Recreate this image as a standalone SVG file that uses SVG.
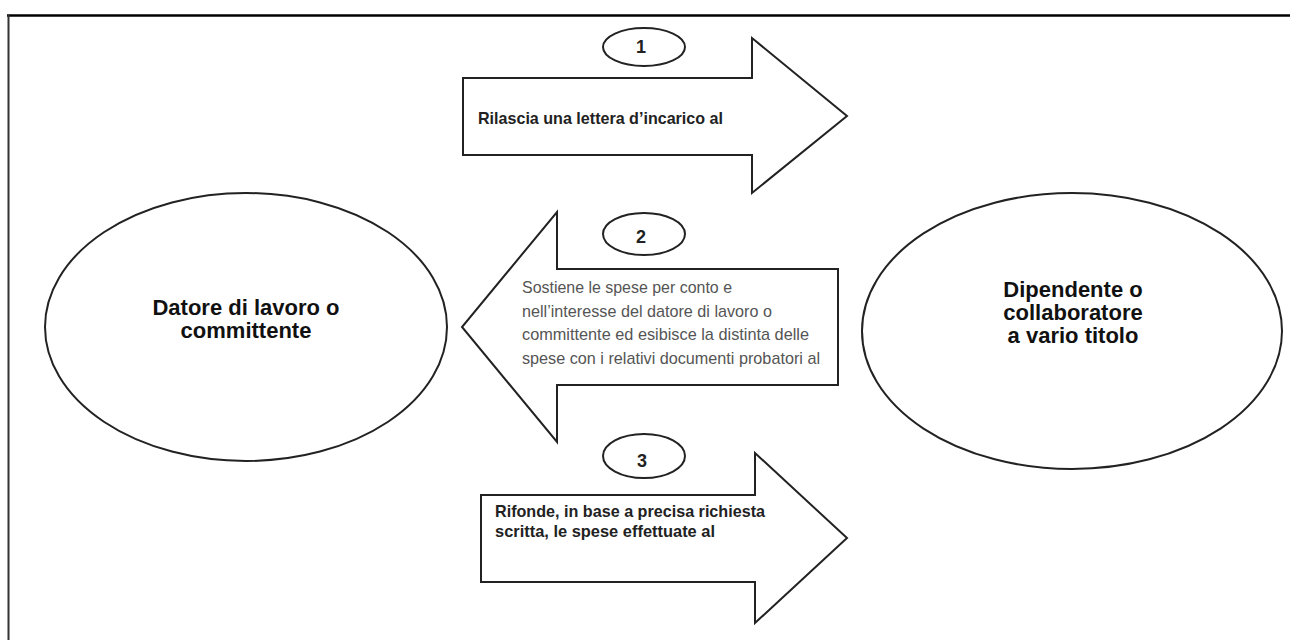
<svg xmlns="http://www.w3.org/2000/svg" width="1290" height="640" viewBox="0 0 1290 640">
<style>
.shape{fill:#fff;stroke:#222;stroke-width:2}
.big{font-family:"Liberation Sans",Arial,sans-serif;font-weight:bold;font-size:22px;fill:#111;text-anchor:middle}
.num{font-family:"Liberation Sans",Arial,sans-serif;font-weight:bold;font-size:18px;fill:#222;text-anchor:middle}
.lbl{font-family:"Liberation Sans",Arial,sans-serif;font-weight:bold;font-size:17px;fill:#222}
.lbl2{font-family:"Liberation Sans",Arial,sans-serif;font-size:17px;fill:#555}
</style>
<rect width="1290" height="640" fill="#fff"/>
<g id="frame">
<line x1="7" y1="15.5" x2="1290" y2="15.5" stroke="#000" stroke-width="2.5"/>
<line x1="8.5" y1="15" x2="8.5" y2="640" stroke="#333" stroke-width="2"/>
</g>
<g id="connectors">
<g id="arrow1">
<polygon class="shape" points="463,78 752,78 752,38 847,116 752,193 752,155 463,155"/>
<text class="lbl" x="478" y="124" textLength="245" lengthAdjust="spacingAndGlyphs">Rilascia una lettera d’incarico al</text>
</g>
<g id="arrow2">
<polygon class="shape" points="838,269 557,269 557,212 462,327 557,442 557,385 838,385"/>
<text class="lbl2" x="522" y="293" textLength="210" lengthAdjust="spacingAndGlyphs">Sostiene le spese per conto e</text>
<text class="lbl2" x="522" y="316.5" textLength="250" lengthAdjust="spacingAndGlyphs">nell’interesse del datore di lavoro o</text>
<text class="lbl2" x="522" y="340" textLength="287" lengthAdjust="spacingAndGlyphs">committente ed esibisce la distinta delle</text>
<text class="lbl2" x="522" y="363.5" textLength="298" lengthAdjust="spacingAndGlyphs">spese con i relativi documenti probatori al</text>
</g>
<g id="arrow3">
<polygon class="shape" points="481,495 755,495 755,453 847,538 755,623 755,582 481,582"/>
<text class="lbl" x="495" y="517" textLength="270" lengthAdjust="spacingAndGlyphs">Rifonde, in base a precisa richiesta</text>
<text class="lbl" x="495" y="537" textLength="220" lengthAdjust="spacingAndGlyphs">scritta, le spese effettuate al</text>
</g>
</g>
<g id="step1">
<ellipse class="shape" cx="644" cy="47" rx="41" ry="19"/>
<text class="num" x="641" y="53">1</text>
</g>
<g id="step2">
<ellipse class="shape" cx="644" cy="234" rx="41" ry="21"/>
<text class="num" x="641" y="243">2</text>
</g>
<g id="step3">
<ellipse class="shape" cx="644" cy="456" rx="41" ry="22"/>
<text class="num" x="642" y="467">3</text>
</g>
<g id="datore">
<ellipse class="shape" cx="246" cy="327" rx="201" ry="134"/>
<text class="big" x="246" y="315">Datore di lavoro o</text>
<text class="big" x="246" y="338">committente</text>
</g>
<g id="dipendente">
<ellipse class="shape" cx="1072" cy="331" rx="210" ry="138"/>
<text class="big" x="1073" y="297">Dipendente o</text>
<text class="big" x="1073" y="320">collaboratore</text>
<text class="big" x="1073" y="343">a vario titolo</text>
</g>
</svg>
